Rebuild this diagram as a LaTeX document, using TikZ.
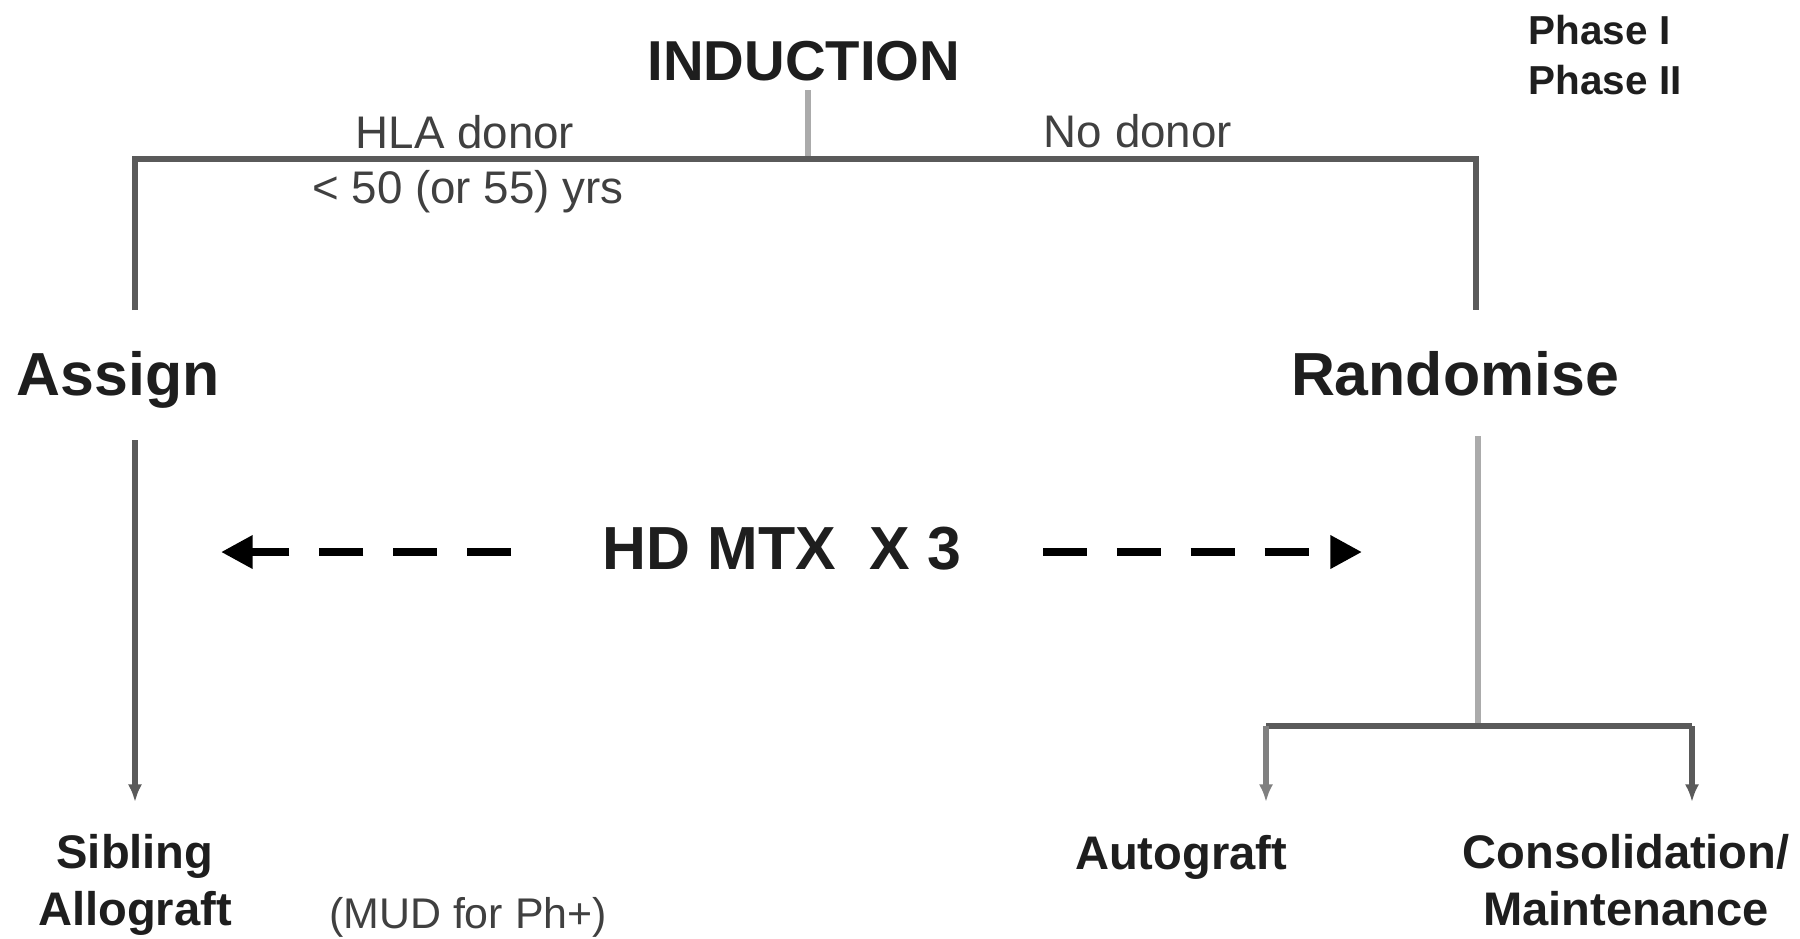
\documentclass[tikz,border=0pt]{standalone}
\usepackage{fontspec}
\setmainfont{Liberation Sans}
\usetikzlibrary{arrows.meta}
\definecolor{treedark}{HTML}{5A5A5A}
\definecolor{treelight}{HTML}{ABABAB}
\definecolor{inkgray}{HTML}{1E1E1E}
\tikzset{
  headlbl/.style={font=\fontsize{16}{19}\selectfont\bfseries,text=inkgray,anchor=base,inner sep=0pt},
  armlbl/.style={font=\fontsize{17.3}{20}\selectfont\bfseries,text=inkgray,anchor=base,inner sep=0pt},
  edgelbl/.style={font=\fontsize{13}{16}\selectfont,text=inkgray!85,anchor=base,inner sep=0pt},
  leaflbl/.style={font=\fontsize{13.4}{16.2}\selectfont\bfseries,text=inkgray,align=center,anchor=base,inner sep=0pt},
  phaselbl/.style={font=\fontsize{11.5}{14}\selectfont\bfseries,text=inkgray,anchor=base west,inner sep=0pt},
  treeline/.style={treedark,line width=1.6pt,line join=miter},
  stemline/.style={treelight,line width=1.6pt},
  leafarrow/.style={-{Latex[length=5pt,width=4pt]}},
  mtxarrow/.style={-{Triangle[length=9pt,width=9pt]},line width=2.2pt,dash pattern=on 12.5pt off 8.5pt,black},
}

\begin{document}
\begin{tikzpicture}[x=0.01cm,y=-0.01cm]
    \useasboundingbox (0,0) rectangle (1800,938);
    \node[headlbl] (induction) at (804,80) {INDUCTION};
    \node[phaselbl] (phase1) at (1528,44) {Phase I};
    \node[phaselbl] (phase2) at (1528,94) {Phase II};
    \node[edgelbl] (hla) at (465,148) {HLA donor};
    \node[edgelbl] (age) at (468,203) {< 50 (or 55) yrs};
    \node[edgelbl] (nodonor) at (1138,147) {No donor};
    \node[armlbl] (assign) at (118,395) {Assign};
    \node[armlbl] (randomise) at (1455,395) {Randomise};
    \node[armlbl] (hdmtx) at (782,569) {HD MTX\ \ X 3};
    \node[leaflbl] (sibling) at (135,925) {Sibling\\Allograft};
    \node[edgelbl,font=\fontsize{12.2}{15}\selectfont] (mud) at (468,928) {(MUD for Ph+)};
    \node[leaflbl] (autograft) at (1181,869) {Autograft};
    \node[leaflbl] (consol) at (1626,925) {Consolidation/\\Maintenance};
    % donor split
    \coordinate (split) at (808,159);
    \coordinate (donorL) at (135,310);
    \coordinate (donorR) at (1476,310);
    \draw[stemline,shorten <=2.5pt] (induction.south -| split) -- (split);
    \draw[treeline] (donorL) -- (donorL |- split) -- (donorR |- split) -- (donorR);
    % arms
    \coordinate (armL) at (135,440);
    \coordinate (sibTip) at (135,802);
    \draw[treeline,leafarrow] (armL) -- (sibTip);
    \coordinate (armR) at (1478,436);
    \coordinate (fork) at (1478,726);
    \coordinate (autoTip) at (1266,802);
    \coordinate (consTip) at (1692,802);
    \draw[stemline] (armR) -- (fork);
    \draw[treeline] (autoTip |- fork) -- (consTip |- fork);
    \draw[stemline,leafarrow,draw=gray] (autoTip |- fork) -- (autoTip);
    \draw[treeline,leafarrow] (consTip |- fork) -- (consTip);
    % HD MTX arrows
    \coordinate (mtxL) at (511,552);
    \coordinate (mtxLtip) at (221,552);
    \coordinate (mtxR) at (1043,552);
    \coordinate (mtxRtip) at (1362,552);
    \draw[mtxarrow] (mtxL) -- (mtxLtip);
    \draw[mtxarrow] (mtxR) -- (mtxRtip);
\end{tikzpicture}
\end{document}
